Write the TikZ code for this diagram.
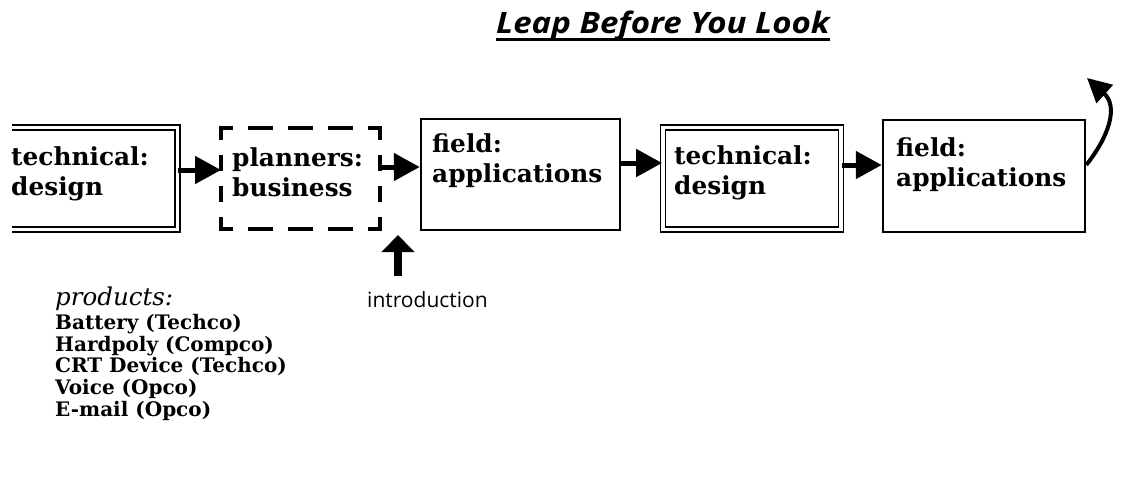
\documentclass[tikz,border=0pt]{standalone}
\usepackage{fontspec}
\setmainfont{DejaVu Serif}
\newfontfamily\headsans{Open Sans}
\usetikzlibrary{arrows.meta}

\tikzset{
  boxline/.style={draw, line width=2.5pt, inner sep=0pt},
  dblline/.style={draw, line width=1.8pt, double, double distance=3.2pt},
  frame/.style={inner sep=0pt, outer sep=0pt},
  boxtxt/.style={inner sep=0pt, anchor=north west, align=left,
    font=\fontsize{24.8}{30.5}\selectfont\bfseries},
  flow/.style={line width=5pt, -{Triangle[length=26pt,width=27pt]}},
  dashh/.style={line width=3.8pt, dash pattern=on 25pt off 15pt, dash phase=11.25pt},
  dashv/.style={line width=3.8pt, dash pattern=on 16pt off 15pt, dash phase=2.25pt},
}

\begin{document}
\begin{tikzpicture}[x=1pt,y=-1pt]
\useasboundingbox (0,0) rectangle (1140,483);
\fill[white] (0,0) rectangle (1140,483);

% title
\node[inner sep=0pt, anchor=base west,
      font=\headsans\bfseries\itshape\fontsize{29.5}{36}\selectfont] (title) at (496,33)
  {\scalebox{1.12}[1]{Leap Before You Look}};
\draw[line width=3pt] ([yshift=-6.5pt]title.base west) -- ([yshift=-6.5pt]title.base east);

% stage frames
\node[frame, minimum width=165.5pt, minimum height=102pt] (td1) at (94.75,178.5) {};
\draw[dblline] (td1.north west) -- (td1.north east) -- (td1.south east) -- (td1.south west);

\node[frame, minimum width=159pt, minimum height=101pt] (plan) at (300.5,178.5) {};
\draw[dashh] ([xshift=-1.9pt]plan.north west) -- ([xshift=1.9pt]plan.north east);
\draw[dashh] ([xshift=-1.9pt]plan.south west) -- ([xshift=1.9pt]plan.south east);
\draw[dashv] ([yshift=1.9pt]plan.north west) -- ([yshift=-1.9pt]plan.south west);
\draw[dashv] ([yshift=1.9pt]plan.north east) -- ([yshift=-1.9pt]plan.south east);

\node[boxline, minimum width=199pt, minimum height=111pt] (f1) at (520.5,174.5) {};
\node[dblline, inner sep=0pt, minimum width=178pt, minimum height=102pt] (td2) at (752,178.5) {};
\node[boxline, minimum width=202pt, minimum height=112pt] (f2) at (984,176) {};

% stage labels
\node[boxtxt] (td1t) at (11,146) {technical:\\design};
\node[boxtxt] (plant) at (232,147) {planners:\\business};
\node[boxtxt] (f1t) at (432,133) {field:\\applications};
\node[boxtxt] (td2t) at (674,145) {technical:\\design};
\node[boxtxt] (f2t) at (896,137) {field:\\applications};

% flow between stages
\draw[flow] ([yshift=8.5pt]td1.east) -- ([yshift=8.5pt]plan.west);
\draw[flow] ([yshift=11.5pt]plan.east) -- ([yshift=7.5pt]f1.west);
\draw[flow] ([yshift=11.5pt]f1.east) -- ([yshift=15.5pt]td2.west);
\draw[flow] ([yshift=13.5pt]td2.east) -- ([yshift=11pt]f2.west);

% loop back out of the last stage
\coordinate (looptip) at (1087,78);
\draw[line width=4pt, -{Triangle[length=24pt,width=24pt]}]
  ([yshift=11pt]f2.east) .. controls (1110,135) and (1118,106) .. (looptip);

% introduction marker
\coordinate (introtail) at (398,276);
\coordinate (introtip) at (398,235);
\draw[line width=8pt, -{Triangle[length=17pt,width=32pt]}] (introtail) -- (introtip);
\node[inner sep=0pt, anchor=base west, font=\headsans\fontsize{21}{25}\selectfont] (intro) at (367,307) {introduction};

% products
\node[inner sep=0pt, anchor=base west, font=\fontsize{24.5}{28}\selectfont\itshape] (prodhead) at (55,305) {products:};
\node[inner sep=0pt, anchor=north west, align=left, font=\fontsize{20}{21.7}\selectfont\bfseries] (prodlist) at (55,314)
  {Battery (Techco)\\Hardpoly (Compco)\\CRT Device (Techco)\\Voice (Opco)\\E-mail (Opco)};
\end{tikzpicture}
\end{document}
